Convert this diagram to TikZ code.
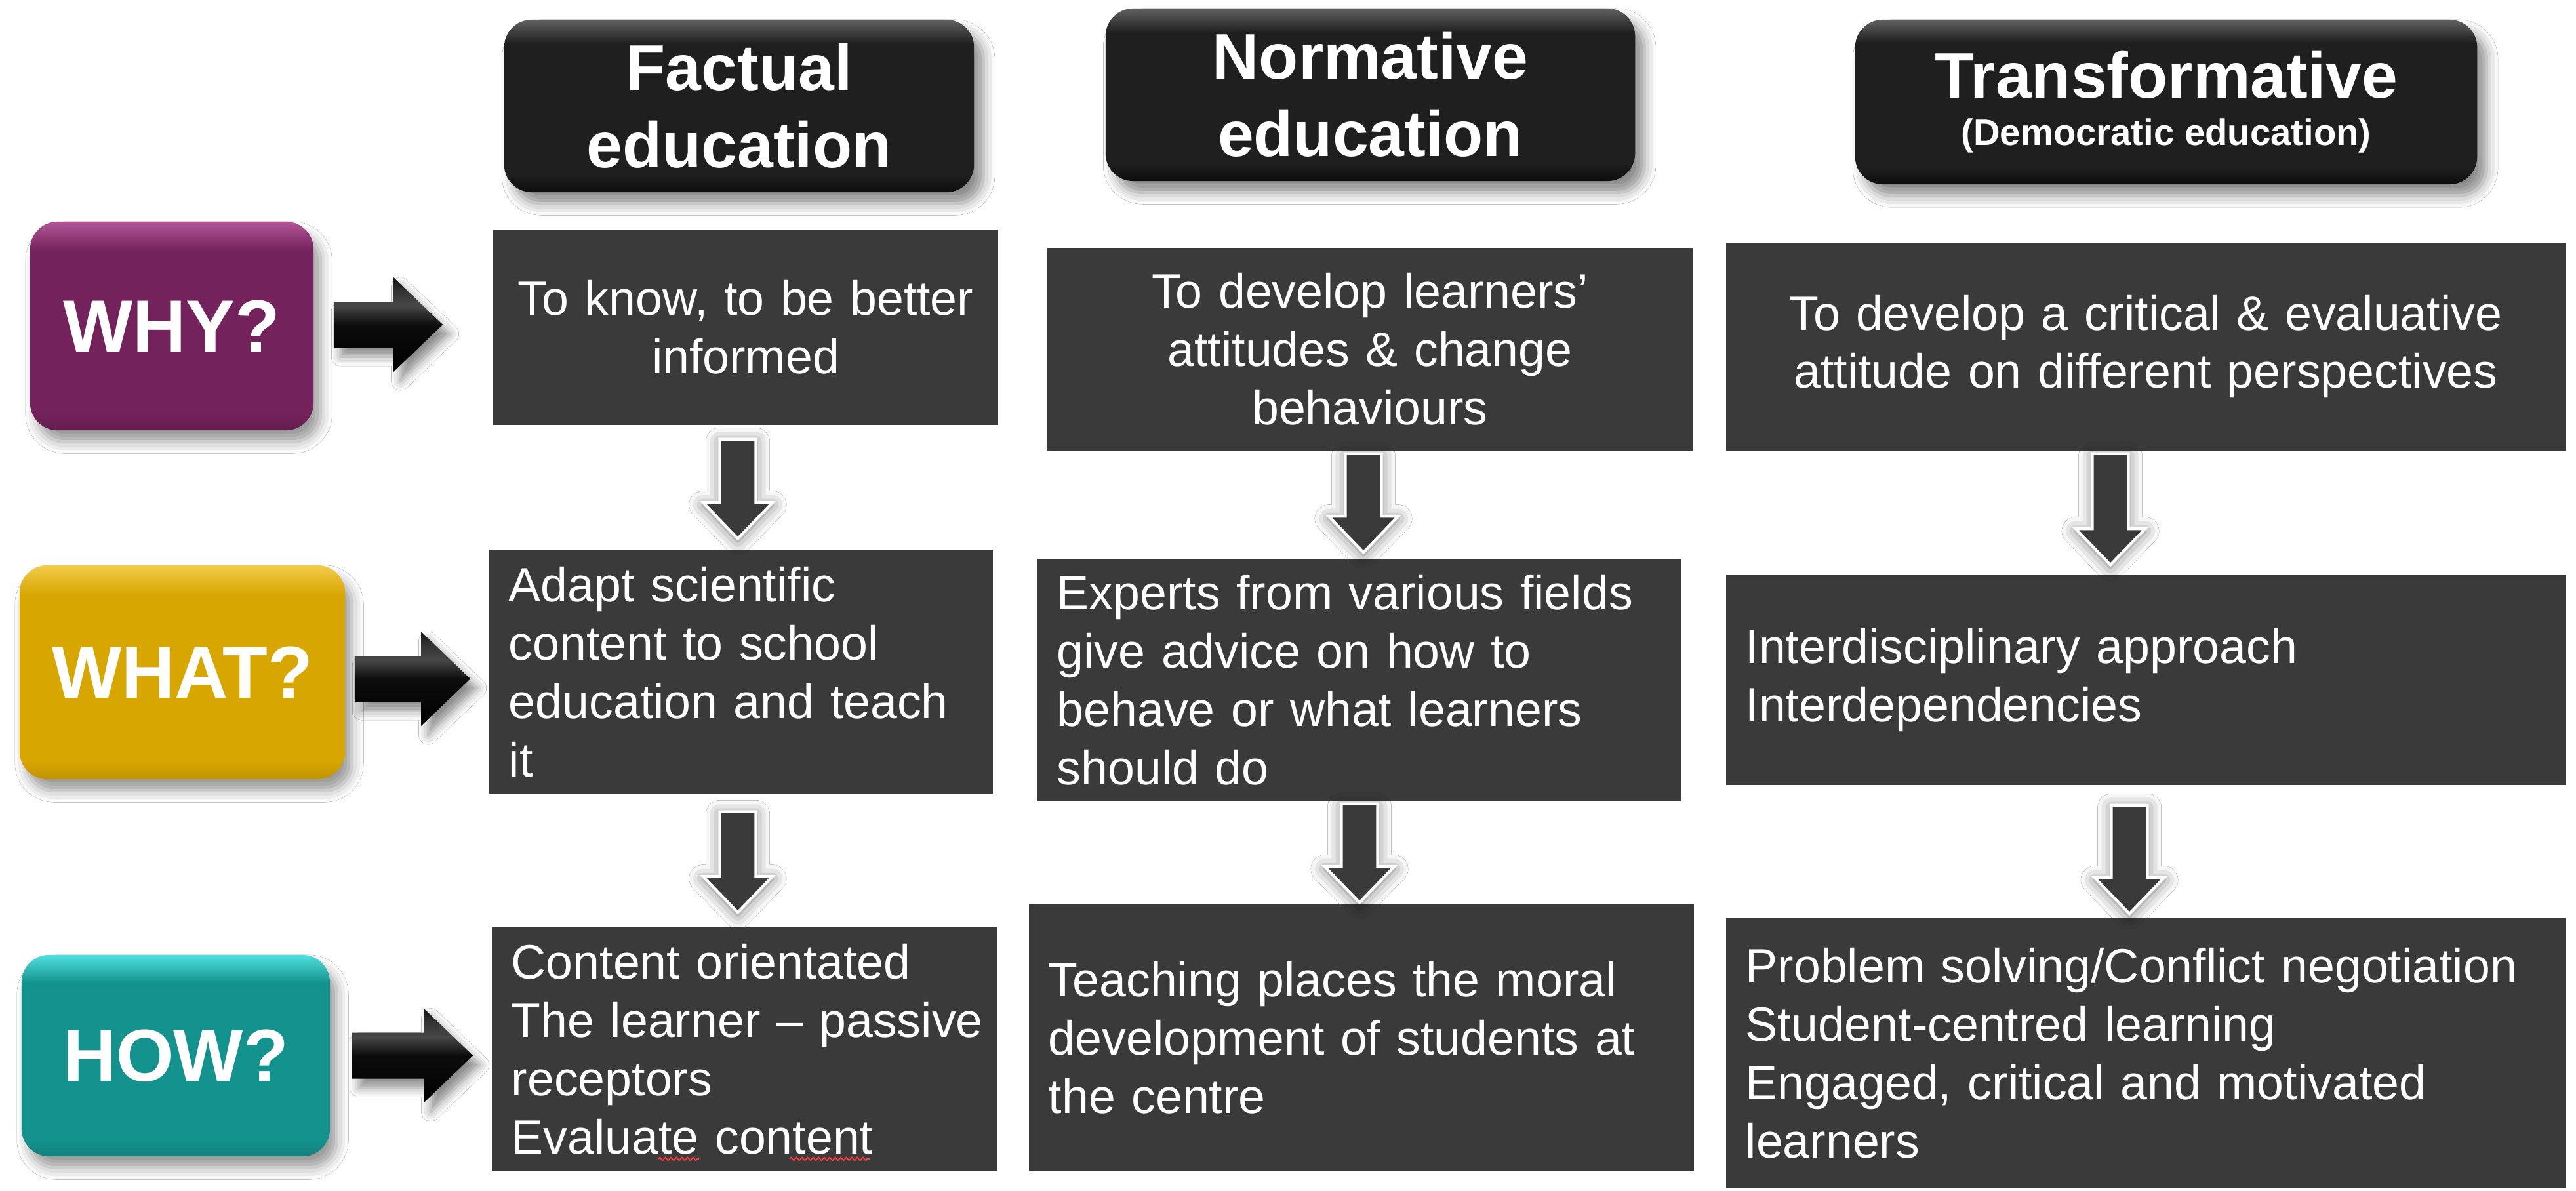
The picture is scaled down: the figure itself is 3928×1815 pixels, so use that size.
\documentclass[tikz,border=0pt]{standalone}
\usepackage{fontspec}
\setmainfont{Liberation Sans}
\usetikzlibrary{calc,shadows,shadows.blur,decorations.pathmorphing}

\definecolor{boxgray}{HTML}{3A3A3A}
\definecolor{whybase}{HTML}{74225B}
\definecolor{whytop}{HTML}{B25596}
\definecolor{whatbase}{HTML}{D8A600}
\definecolor{whattop}{HTML}{F2CC4A}
\definecolor{howbase}{HTML}{14928E}
\definecolor{howtop}{HTML}{4FE0DE}

% glossy fills: flat body, darker lower rim, light upper rim
\pgfdeclareverticalshading{whyshade}{100bp}{color(0bp)=(whybase!85!black); color(25bp)=(whybase!85!black);
  color(29bp)=(whybase); color(68bp)=(whybase); color(75bp)=(whytop); color(100bp)=(whytop)}
\pgfdeclareverticalshading{whatshade}{100bp}{color(0bp)=(whatbase!88!black); color(25bp)=(whatbase!88!black);
  color(29bp)=(whatbase); color(68bp)=(whatbase); color(75bp)=(whattop); color(100bp)=(whattop)}
\pgfdeclareverticalshading{howshade}{100bp}{color(0bp)=(howbase!88!black); color(25bp)=(howbase!88!black);
  color(29bp)=(howbase); color(68bp)=(howbase); color(75bp)=(howtop); color(100bp)=(howtop)}
\pgfdeclareverticalshading{headshade}{100bp}{color(0bp)=(black!95); color(25bp)=(black!95);
  color(30bp)=(black!88); color(68bp)=(black!88); color(75bp)=(black!62); color(100bp)=(black!62)}
\pgfdeclareverticalshading{rarrshade}{100bp}{color(0bp)=(black); color(25bp)=(black);
  color(50bp)=(black!95); color(60bp)=(black!72); color(68bp)=(black!80); color(75bp)=(black!92); color(100bp)=(black!92)}

\tikzset{
  txtbox/.style={rectangle, fill=boxgray, text=white, inner sep=0pt,
    font=\fontsize{20.9}{25.3}\selectfont},
  leftbox/.style={txtbox, align=left},
  centerbox/.style={txtbox, align=center},
  headbox/.style={rectangle, rounded corners=0.42cm, text=white, inner sep=0pt,
    font=\bfseries\fontsize{28}{33.6}\selectfont, align=center, shading=headshade,
    blur shadow={shadow xshift=4pt, shadow yshift=-5pt, shadow blur radius=5pt, shadow opacity=45}},
  rowlabel/.style={rectangle, rounded corners=0.42cm, text=white, inner sep=0pt,
    font=\bfseries\fontsize{32}{38}\selectfont,
    blur shadow={shadow xshift=3pt, shadow yshift=-5pt, shadow blur radius=5pt, shadow opacity=40}},
  rarrowshape/.style={shading=rarrshade,
    blur shadow={shadow xshift=3pt, shadow yshift=-4pt, shadow blur radius=4pt, shadow opacity=45}},
  darrowshape/.style={fill=boxgray, draw=white, line width=1.2pt, line join=miter,
    blur shadow={shadow xshift=0pt, shadow yshift=-1pt, shadow blur radius=6pt, shadow opacity=55}},
  squiggle/.style={draw=red!75, line width=0.5pt, decorate,
    decoration={zigzag, amplitude=0.7pt, segment length=2.4pt}}
}

% horizontal block arrow: tail point, tip point
\newcommand{\rightblock}[2]{%
  \path[rarrowshape] ($(#1)+(0,-35)$) -- ($(#2)+(-75,-35)$) -- ($(#2)+(-75,-72)$)
    -- (#2) -- ($(#2)+(-75,72)$) -- ($(#2)+(-75,35)$) -- ($(#1)+(0,35)$) -- cycle;}
% vertical block arrow: tail point, tip point
\newcommand{\downblock}[2]{%
  \path[darrowshape] ($(#1)+(-27.5,0)$) -- ($(#2)+(-27.5,-55)$) -- ($(#2)+(-53,-55)$)
    -- (#2) -- ($(#2)+(53,-55)$) -- ($(#2)+(27.5,-55)$) -- ($(#1)+(27.5,0)$) -- cycle;}

\begin{document}
\begin{tikzpicture}[x=0.01cm, y=-0.01cm]
\useasboundingbox (0,0) rectangle (3928,1815);
\fill[white] (0,0) rectangle (3928,1815);

% column headers
\node[headbox, minimum width=7.16cm, minimum height=2.63cm] (hf) at (1127,161.5)
  {Factual\\education};
\node[headbox, minimum width=8.07cm, minimum height=2.63cm] (hn) at (2089.5,144.5)
  {Normative\\education};
\node[headbox, minimum width=9.48cm, minimum height=2.51cm] (ht) at (3303,155.5)
  {Transformative\\[-13pt]{\fontsize{16}{19}\selectfont (Democratic education)}};

% row labels
\node[rowlabel, shading=whyshade, minimum width=4.32cm, minimum height=3.18cm] (why) at (262,497) {WHY?};
\node[rowlabel, shading=whatshade, minimum width=4.96cm, minimum height=3.26cm] (what) at (278,1025) {WHAT?};
\node[rowlabel, shading=howshade, minimum width=4.70cm, minimum height=3.07cm] (how) at (268,1609.5) {HOW?};

% factual column
\node[centerbox, minimum width=7.70cm, minimum height=2.98cm, text width=7.10cm] (b11) at (1137,499)
  {To know, to be better\\informed};
\node[leftbox, minimum width=7.68cm, minimum height=3.71cm, text width=7.08cm] (b12) at (1130,1024.5)
  {Adapt scientific\\content to school\\education and teach\\it};
\node[leftbox, minimum width=7.70cm, minimum height=3.71cm, text width=7.10cm] (b13) at (1135,1599.5)
  {Content orientated\\\mbox{The learner – passive}\\receptors\\Evaluate content};

% normative column
\node[centerbox, minimum width=9.84cm, minimum height=3.09cm, text width=9.24cm] (b21) at (2089,532.5)
  {To develop learners’\\attitudes \& change\\behaviours};
\node[leftbox, minimum width=9.82cm, minimum height=3.69cm, text width=9.22cm] (b22) at (2073,1036.5)
  {Experts from various fields\\give advice on how to\\behave or what learners\\should do};
\node[leftbox, minimum width=10.14cm, minimum height=4.06cm, text width=9.54cm] (b23) at (2076,1582)
  {Teaching places the moral\\development of students at\\the centre};

% transformative column
\node[centerbox, minimum width=12.80cm, minimum height=3.17cm, text width=12.20cm] (b31) at (3272,528.5)
  {To develop a critical \& evaluative\\attitude on different perspectives};
\node[leftbox, minimum width=12.80cm, minimum height=3.20cm, text width=12.20cm] (b32) at (3272,1037)
  {Interdisciplinary approach\\Interdependencies};
\node[leftbox, minimum width=12.80cm, minimum height=4.12cm, text width=12.20cm] (b33) at (3272,1606)
  {Problem solving/Conflict negotiation\\Student-centred learning\\Engaged, critical and motivated\\learners};

% spell-check marks under "Evaluate content"
\draw[squiggle] (1004,1767) -- (1066,1767);
\draw[squiggle] (1204,1767) -- (1326,1767);

% arrows from the row labels
\coordinate (r1s) at ($(why.east)+(30,-2)$);
\coordinate (r1e) at ($(r1s -| b11.west)+(-76,0)$);
\rightblock{r1s}{r1e}
\coordinate (r2s) at ($(what.east)+(14,10)$);
\coordinate (r2e) at ($(r2s -| b12.west)+(-28,0)$);
\rightblock{r2s}{r2e}
\coordinate (r3s) at ($(how.east)+(33,0)$);
\coordinate (r3e) at ($(r3s -| b13.west)+(-28,0)$);
\rightblock{r3s}{r3e}

% arrows down each column
\coordinate (ax1) at (1125,0);
\coordinate (ax2) at (2079,0);
\coordinate (ax3) at (2073,0);
\coordinate (ax4) at (3218,0);
\coordinate (ax5) at (3247,0);

\coordinate (d1s) at ($(b11.south -| ax1)+(0,21)$);
\coordinate (d1e) at ($(b12.north -| ax1)+(0,-17)$);
\downblock{d1s}{d1e}
\coordinate (d2s) at ($(b12.south -| ax1)+(0,27)$);
\coordinate (d2e) at ($(b13.north -| ax1)+(0,-22)$);
\downblock{d2s}{d2e}
\coordinate (d3s) at ($(b21.south -| ax2)+(0,4)$);
\coordinate (d3e) at ($(b22.north -| ax2)+(0,-9)$);
\downblock{d3s}{d3e}
\coordinate (d4s) at ($(b22.south -| ax3)+(0,4)$);
\coordinate (d4e) at ($(b23.north -| ax3)+(0,-2)$);
\downblock{d4s}{d4e}
\coordinate (d5s) at ($(b31.south -| ax4)+(0,4)$);
\coordinate (d5e) at ($(b32.north -| ax4)+(0,-15)$);
\downblock{d5s}{d5e}
\coordinate (d6s) at ($(b32.south -| ax5)+(0,30)$);
\coordinate (d6e) at ($(b33.north -| ax5)+(0,-6)$);
\downblock{d6s}{d6e}
\end{tikzpicture}
\end{document}
